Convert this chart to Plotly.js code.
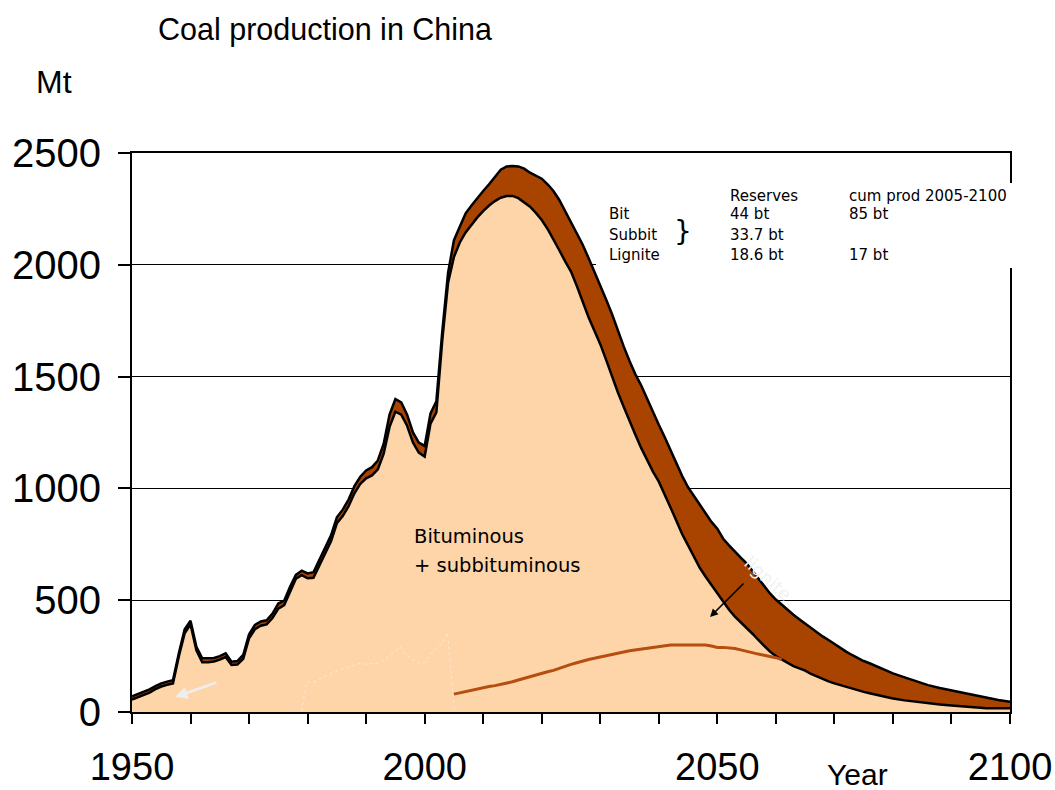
<!DOCTYPE html>
<html>
<head>
<meta charset="utf-8">
<script src="https://cdn.plot.ly/plotly-3.0.1.min.js"></script>
<style>html,body{margin:0;padding:0;background:#fff;}#chart{width:1055px;height:790px;}</style>
</head>
<body>
<div id="chart"></div>
<script>
const years = [1950,1951,1952,1953,1954,1955,1956,1957,1958,1959,
1960,1961,1962,1963,1964,1965,1966,1967,1968,1969,
1970,1971,1972,1973,1974,1975,1976,1977,1978,1979,
1980,1981,1982,1983,1984,1985,1986,1987,1988,1989,
1990,1991,1992,1993,1994,1995,1996,1997,1998,1999,
2000,2001,2002,2003,2004,2005,2006,2007,2008,2009,
2010,2011,2012,2013,2014,2015,2016,2017,2018,2019,
2020,2021,2022,2023,2024,2025,2026,2027,2028,2029,
2030,2031,2032,2033,2034,2035,2036,2037,2038,2039,
2040,2041,2042,2043,2044,2045,2046,2047,2048,2049,
2050,2051,2052,2053,2054,2055,2056,2057,2058,2059,
2060,2061,2062,2063,2064,2065,2066,2067,2068,2069,
2070,2071,2072,2073,2074,2075,2076,2077,2078,2079,
2080,2082,2084,2086,2088,2090,2092,2094,2096,2098,2100];

// Total coal production (top of brown band), Mt
const totalMt = [70,80,91,101,116,128,136,142,263,370,
408,292,240,240,242,250,262,225,228,255,
348,389,405,410,440,485,498,560,613,632,
620,625,680,740,790,871,905,950,1010,1052,
1080,1095,1125,1200,1330,1400,1385,1330,1250,1205,
1190,1335,1390,1700,1965,2110,2170,2230,2265,2295,
2330,2360,2395,2425,2440,2442,2440,2430,2412,2400,
2385,2360,2330,2290,2240,2195,2145,2090,2030,1970,
1910,1845,1780,1705,1635,1570,1510,1460,1400,1340,
1285,1230,1170,1110,1055,1005,965,925,885,850,
820,775,745,715,690,665,630,595,565,530,
503,480,455,435,415,395,375,355,338,322,
305,285,270,255,240,228,218,207,195,184,
173,155,138,120,107,96,84,74,63,54,46];

// Bituminous + subbituminous (lower curve), Mt
const bitSubMt = [55,65,77,87,102,114,122,128,248,352,
392,276,222,222,226,234,246,210,212,238,
330,370,386,392,420,462,478,540,596,612,
598,600,655,715,763,844,876,920,978,1020,
1045,1058,1085,1155,1275,1343,1330,1280,1205,1160,
1142,1290,1340,1660,1920,2035,2100,2145,2180,2212,
2240,2265,2285,2300,2308,2308,2298,2280,2260,2232,
2200,2160,2115,2065,2015,1970,1905,1835,1765,1705,
1645,1575,1500,1430,1365,1300,1240,1180,1125,1075,
1030,975,915,855,795,745,695,645,605,568,
533,492,457,427,402,378,350,322,295,270,
250,235,220,205,195,185,170,158,147,137,
128,120,112,104,96,90,84,78,72,66,
60,52,45,40,34,29,24,19,17,17,17];

// Lignite production forecast line (orange), Mt
const ligYears = [2005,2006,2007,2008,2009,2010,2011,2012,2013,2014,
2015,2016,2017,2018,2019,2020,2021,2022,2023,2024,
2025,2026,2027,2028,2029,2030,2031,2032,2033,2034,
2035,2036,2037,2038,2039,2040,2041,2042,2043,2044,
2045,2046,2047,2048,2049,2050,2051,2052,2053,2054,
2055,2056,2057,2058,2059,2060,2061];
const ligMt = [80,86,92,97,103,110,114,118,123,128,
135,143,151,158,165,172,180,186,196,205,
213,220,228,235,240,245,250,256,262,268,
274,278,282,285,288,292,297,300,300,300,
300,300,300,300,295,289,289,288,284,278,
271,265,259,254,249,243,235];

// Faint historical lignite line
const histLigYears = [1979.0,1979.8,1981.3,1983.3,1985.5,1989.0,1990.1,1992.4,1994.1,1995.8,1996.9,1998.9,2000.1,2001.5,2002.9,2003.9,2005.1];
const histLigMt = [5,133,136,165,188,218,213,221,255,292,255,218,221,277,304,355,5];

const xTickVals = [1950,1960,1970,1980,1990,2000,2010,2020,2030,2040,2050,2060,2070,2080,2090,2100];
const xTickText = ['1950','','','','','2000','','','','','2050','','','','','2100'];
const yTickVals = [0,500,1000,1500,2000,2500];

const tableRows = [
  ['', 'Reserves', 'cum prod 2005-2100'],
  ['Bit', '44 bt', '85 bt'],
  ['Subbit', '33.7 bt', ''],
  ['Lignite', '18.6 bt', '17 bt']
];

const PEACH = '#FDD5A8';
const BROWN = '#A84300';
const ORANGE = '#B54E0E';

const traces = [
  {x: years, y: bitSubMt, type: 'scatter', mode: 'lines', fill: 'tozeroy', fillcolor: PEACH,
   line: {color: '#000', width: 2.5}, hoverinfo: 'skip'},
  {x: years, y: totalMt, type: 'scatter', mode: 'lines', fill: 'tonexty', fillcolor: BROWN,
   line: {color: '#000', width: 2.5}, hoverinfo: 'skip'},
  {x: histLigYears, y: histLigMt, type: 'scatter', mode: 'lines',
   line: {color: '#FFE9D3', width: 1, dash: 'dot'}, hoverinfo: 'skip'},
  {x: ligYears, y: ligMt, type: 'scatter', mode: 'lines',
   line: {color: ORANGE, width: 3}, hoverinfo: 'skip'}
];

const tFont = {family: 'DejaVu Sans', size: 15, color: '#000'};
const colX = [2031.1, 2051.8, 2072.1];
const rowY = [2308, 2225, 2133, 2044];
const annotations = [];
tableRows.forEach((row, r) => {
  row.forEach((txt, c) => {
    if (txt) annotations.push({x: colX[c], y: rowY[r], xref: 'x', yref: 'y', text: txt, showarrow: false,
      xanchor: 'left', yanchor: 'middle', font: tFont});
  });
});
annotations.push({x: 2042.3, y: 2150, xref: 'x', yref: 'y', text: '}', showarrow: false,
  xanchor: 'left', yanchor: 'middle', font: {family: 'DejaVu Sans', size: 28, color: '#000'}});
annotations.push({x: 1997.8, y: 783, xref: 'x', yref: 'y', text: 'Bituminous', showarrow: false,
  xanchor: 'left', yanchor: 'middle', font: {family: 'DejaVu Sans', size: 19.5, color: '#000'}});
annotations.push({x: 1997.8, y: 657, xref: 'x', yref: 'y', text: '+ subbituminous', showarrow: false,
  xanchor: 'left', yanchor: 'middle', font: {family: 'DejaVu Sans', size: 19.5, color: '#000'}});
annotations.push({x: 2058.7, y: 597, xref: 'x', yref: 'y', text: 'lignite', showarrow: false,
  textangle: 42, xanchor: 'center', yanchor: 'middle', font: {family: 'DejaVu Sans', size: 18, color: '#F2F2F2'}});
annotations.push({x: 2048.75, y: 425, xref: 'x', yref: 'y', ax: 35, ay: -35, text: '', showarrow: true,
  arrowhead: 2, arrowsize: 1, arrowwidth: 1.6, arrowcolor: '#000'});
annotations.push({x: 1957.35, y: 67, xref: 'x', yref: 'y', ax: 43, ay: -15, text: '', showarrow: true,
  arrowhead: 2, arrowsize: 1, arrowwidth: 2.5, arrowcolor: '#EEEEEE'});
annotations.push({x: (34 - 132) / 878, y: (712 - 82) / 559, xref: 'paper', yref: 'paper', text: 'Mt', showarrow: false,
  xanchor: 'left', yanchor: 'middle', font: {family: 'Liberation Sans', size: 32, color: '#000'}});
annotations.push({x: (857 - 132) / 878, y: (712 - 774) / 559, xref: 'paper', yref: 'paper', text: 'Year', showarrow: false,
  xanchor: 'center', yanchor: 'middle', font: {family: 'Liberation Sans', size: 30, color: '#000'}});

const layout = {
  width: 1055, height: 790,
  margin: {l: 132, r: 45, t: 153, b: 78},
  paper_bgcolor: '#fff', plot_bgcolor: '#fff',
  showlegend: false,
  title: {text: 'Coal production in China', xref: 'container', yref: 'container',
    x: 158/1055, xanchor: 'left', y: 1 - 29/790, yanchor: 'middle',
    font: {family: 'Liberation Sans', size: 30.5, color: '#000'}},
  xaxis: {range: [1950, 2100], tickmode: 'array', tickvals: xTickVals, ticktext: xTickText,
    ticks: 'outside', ticklen: 10, tickwidth: 2, tickcolor: '#000',
    showline: true, linecolor: '#000', linewidth: 2, mirror: true, showgrid: false, zeroline: false,
    ticklabelstandoff: 10,
    tickfont: {family: 'Liberation Sans', size: 38, color: '#000'}},
  yaxis: {range: [0, 2500], tickmode: 'array', tickvals: yTickVals,
    ticks: 'outside', ticklen: 12, tickwidth: 2, tickcolor: '#000',
    showline: true, linecolor: '#000', linewidth: 2, mirror: true,
    showgrid: true, gridcolor: '#000', gridwidth: 1.2, zeroline: false,
    ticklabelstandoff: 9,
    tickfont: {family: 'Liberation Sans', size: 40, color: '#000'}},
  shapes: [
    {type: 'rect', xref: 'paper', yref: 'paper', x0: (596 - 132) / 878, x1: (1016 - 132) / 878,
     y0: (712 - 268) / 559, y1: (712 - 183) / 559, fillcolor: '#fff', line: {width: 0}, layer: 'above'}
  ],
  annotations: annotations
};

Plotly.newPlot('chart', traces, layout, {displayModeBar: false, staticPlot: true});
</script>
</body>
</html>
